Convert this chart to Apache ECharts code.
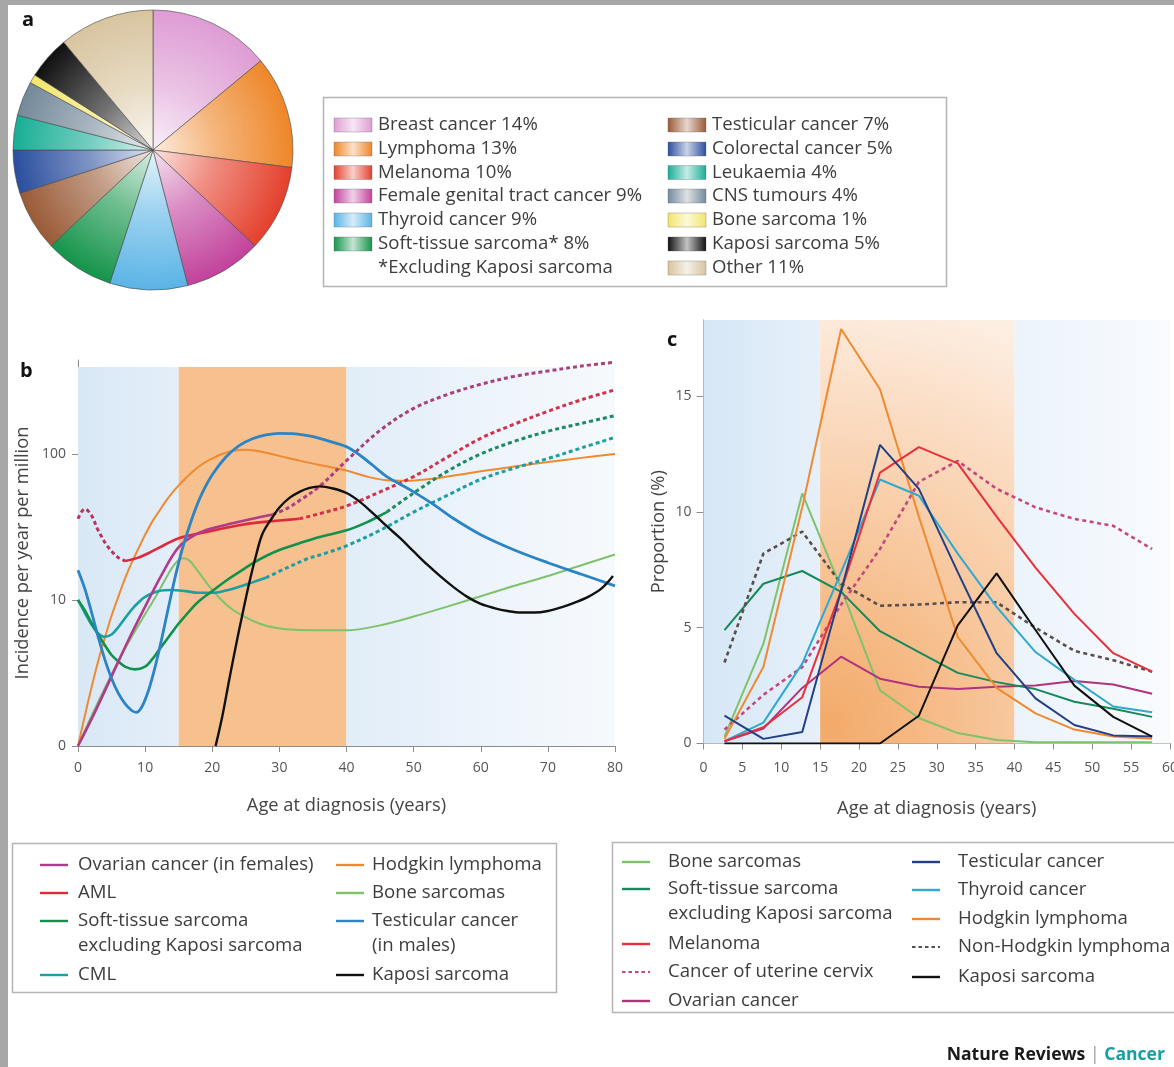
<!DOCTYPE html>
<html><head><meta charset="utf-8">
<script src="https://cdn.jsdelivr.net/npm/echarts@6/dist/echarts.min.js"></script>
<style>html,body{margin:0;padding:0;background:#fff}#chart{width:1174px;height:1067px}</style>
</head><body><div id="chart"></div>
<script>
// ---------- DATA ----------
// Panel a: pie
const pieNames = ['Breast cancer','Lymphoma','Melanoma','Female genital tract cancer','Thyroid cancer','Soft-tissue sarcoma*','Testicular cancer','Colorectal cancer','Leukaemia','CNS tumours','Bone sarcoma','Kaposi sarcoma','Other'];
const pieValues = [14,13,10,9,9,8,7,5,4,4,1,5,11];
const pieFootnote = '*Excluding Kaposi sarcoma';

// Panel b: incidence per year per million, [age, value]
const bOvarian = [[0,1],[2.5,1.7],[5,3],[7.5,5.3],[10,9],[12.5,15],[15,23],[17.5,28],[20,31],[23,33.5],[26,36],[29,38.5]];
const bOvarianLate = [[29,38.5],[31,42],[33,48],[36,60],[40,90],[45,145],[50,205],[55,255],[60,300],[65,340],[70,370],[75,400],[80,425]];
const bAMLEarly = [[0,36],[1,42],[2,38],[3,30],[4.5,23],[6,19.5],[7,18.5]];
const bAML = [[7,18.5],[9,19.5],[11,21.5],[13,24],[15,26.5],[18,28.5],[21,30.5],[24,32.5],[27,34],[30,35],[33,36]];
const bAMLLate = [[33,36],[36,39],[40,44],[45,55],[50,70],[55,95],[60,128],[65,160],[70,196],[75,235],[80,275]];
const bSoftTissue = [[0,10],[1,8.5],[2,7],[3,5.8],[4,4.9],[5,4.2],[6,3.8],[7,3.5],[8.5,3.35],[10,3.5],[11,3.9],[12,4.5],[13,5.2],[14,6],[15,6.9],[16,7.8],[17,8.8],[18,9.8],[20,11.5],[22,13.5],[24,15.5],[26,17.8],[28,20],[30,22],[33,24.5],[36,27],[40,30],[43,34],[46,40]];
const bSoftTissueLate = [[46,40],[50,54],[55,76],[60,100],[65,122],[70,143],[75,162],[80,183]];
const bCML = [[0,10],[1,8.2],[2,6.8],[3,5.9],[4,5.6],[5,5.8],[6,6.5],[7,7.5],[8,8.6],[9,9.6],[10,10.5],[12,11.5],[14,11.7],[16,11.5],[18,11.2],[20,11.2],[22,11.6],[24,12.3],[26,13.2],[28,14.2]];
const bCMLLate = [[28,14.2],[31,16.5],[34,19],[37,21],[40,23.5],[45,30],[50,40],[55,52],[60,67],[65,80],[70,93],[75,110],[80,130]];
const bHodgkin = [[0,1],[1,1.6],[2,2.5],[3,3.8],[4,5.5],[5,7.8],[6,10.5],[7,14],[8,18],[9,22.5],[10,28],[11,34],[12,40],[13,47],[14,54],[15,61],[16,68],[17,75],[18,82],[19,88],[20,93],[21,98],[22,102],[23,105],[24,106.5],[25,107],[26,106],[28,102],[30,97],[33,90],[36,84],[40,77],[43,70],[46,66],[49,65.5],[52,67],[55,70],[60,76],[65,82],[70,88],[75,94],[80,100]];
const bBone = [[0,1],[2,1.6],[4,2.5],[6,3.8],[8,5.6],[10,8],[11.5,10.4],[13,13.8],[14,16.6],[15,18.8],[15.8,19.3],[16.6,18.6],[17.5,16.6],[18.5,14.4],[19.5,12.5],[21,10.4],[23,8.6],[25,7.6],[27,6.9],[29,6.5],[31,6.3],[35,6.2],[40,6.2],[45,6.7],[50,7.7],[55,9],[60,10.6],[65,12.5],[70,14.6],[75,17.3],[80,20.5]];
const bTesticular = [[0,16],[1,12],[2,8.3],[3,5.6],[4,3.9],[5,2.9],[6,2.3],[7,1.95],[8,1.75],[8.7,1.7],[9.5,1.85],[10.5,2.4],[11.5,3.5],[12.5,5.5],[13.5,9],[14.5,14.5],[15.5,22],[16.5,31],[17.5,42],[18.5,54],[20,72],[22,95],[24,114],[26,127],[28,135],[30,138.5],[32,138],[34,134],[36,128],[38,120],[40,112],[42,98],[44,83],[46,70],[48,62],[50,55],[53,45],[56,36],[60,28],[65,22],[70,18],[75,15],[80,12.5]];
const bKaposi = [[20.5,1],[21.5,1.6],[22.5,2.8],[23.5,4.8],[24.5,8],[25.5,13],[26.5,20],[27.5,28.5],[29,37],[30,43],[31.5,50],[33,55],[34.5,58.5],[36,60],[38,58],[40,54],[42,47],[44,39],[46,32],[48,26.5],[50,21.5],[52,17.5],[54,14.5],[56,12.2],[58,10.5],[60,9.4],[62,8.8],[64,8.4],[66,8.2],[68,8.2],[70,8.4],[72,8.9],[74,9.6],[76,10.5],[78,12],[79.7,14.6]];
const bYTicks = [1,10,100];

// Panel c: proportion (%) by 5-year age group
const cAges = [2.7,7.7,12.7,17.7,22.7,27.7,32.7,37.7,42.7,47.7,52.7,57.7];
const cBone = [0.3,4.3,10.8,6.7,2.3,1.1,0.45,0.15,0.05,0.05,0.05,0.05];
const cSoftTissue = [4.9,6.9,7.45,6.55,4.85,3.95,3.05,2.65,2.35,1.8,1.5,1.15];
const cMelanoma = [0.1,0.7,2.0,6.6,11.7,12.8,12.1,9.8,7.6,5.6,3.9,3.1];
const cCervix = [0.6,2.1,3.3,6.0,8.4,11.3,12.2,11.0,10.2,9.7,9.4,8.4];
const cOvarian = [0.1,0.65,2.4,3.75,2.8,2.45,2.35,2.45,2.5,2.7,2.55,2.15];
const cTesticular = [1.2,0.2,0.5,6.6,12.9,11.0,7.4,3.9,1.95,0.8,0.35,0.3];
const cThyroid = [0.1,0.9,3.45,7.4,11.4,10.7,8.2,5.9,3.95,2.75,1.6,1.35];
const cHodgkin = [0.2,3.3,10.2,17.9,15.3,9.8,4.6,2.4,1.3,0.6,0.3,0.2];
const cNHL = [3.5,8.2,9.15,6.9,5.95,6.0,6.1,6.1,5.0,4.0,3.6,3.1];
const cKaposi = [0,0,0,0,0,1.2,5.1,7.35,4.9,2.5,1.15,0.3];
const cYTicks = [0,5,10,15];

// Legend texts
const bLegendLeft = ['Ovarian cancer (in females)','AML','Soft-tissue sarcoma\nexcluding Kaposi sarcoma','CML'];
const bLegendRight = ['Hodgkin lymphoma','Bone sarcomas','Testicular cancer\n(in males)','Kaposi sarcoma'];
const cLegendLeft = ['Bone sarcomas','Soft-tissue sarcoma\nexcluding Kaposi sarcoma','Melanoma','Cancer of uterine cervix','Ovarian cancer'];
const cLegendRight = ['Testicular cancer','Thyroid cancer','Hodgkin lymphoma','Non-Hodgkin lymphoma','Kaposi sarcoma'];

// ---------- STYLE ----------
const FONT = "'Open Sans', 'Noto Sans', sans-serif";
const TXT = '#3d3d3d';
const pieColors = ['#de9cd4','#ee8628','#e4402c','#c2429c','#5ab4e6','#14944a','#9a5a36','#2a4e9e','#18ae96','#74899a','#f2e66a','#101010','#d8c49f'];
const C = {
  ovarian:'#b23a8c', aml:'#e0283c', soft:'#11924c', cml:'#1b9fa3', hodgkin:'#f08a30',
  bone:'#7fc26c', testicB:'#2a84c6', kaposi:'#111111',
  testicC:'#233f86', thyroid:'#2ea9d1', melanoma:'#e8303c', cervix:'#c2497f', nhl:'#5a4d4d', ovarianC:'#b0337e', softC:'#17895a'
};
function mix(hex, t){
  const n = parseInt(hex.slice(1),16);
  const r=(n>>16)&255, g=(n>>8)&255, b=n&255;
  const f = v => Math.round(v + (255-v)*t);
  return 'rgb('+f(r)+','+f(g)+','+f(b)+')';
}

const chart = echarts.init(document.getElementById('chart'), null, {renderer:'canvas', width:1174, height:1067});

// ---------- axes ----------
function axisBase(){
  return {
    axisLine:{show:true, onZero:false, lineStyle:{color:'#8c8c8c', width:1}},
    axisTick:{show:true, inside:false, length:6, lineStyle:{color:'#8c8c8c', width:1}},
    axisLabel:{color:'#555', fontSize:14, fontFamily:FONT},
    splitLine:{show:false},
    nameTextStyle:{color:'#444', fontSize:18.3, fontFamily:FONT},
    nameLocation:'middle'
  };
}
const xB = Object.assign(axisBase(), {type:'value', gridIndex:0, min:0, max:80, interval:10, name:'Age at diagnosis (years)', nameGap:51});
xB.axisLabel.margin = 15;
const yB = Object.assign(axisBase(), {type:'log', logBase:10, gridIndex:0, min:1, max:440, name:'Incidence per year per million', nameGap:46, nameRotate:90});
yB.axisLabel = Object.assign(yB.axisLabel, {margin:12, customValues:bYTicks, formatter: v => bYTicks.indexOf(v) < 0 ? '' : (v === 1 ? '0' : String(v))});
yB.axisTick = Object.assign(yB.axisTick, {customValues:bYTicks});
const xC = Object.assign(axisBase(), {type:'value', gridIndex:1, min:0, max:60, interval:5, name:'Age at diagnosis (years)', nameGap:56});
xC.axisLabel.margin = 18;
const yC = Object.assign(axisBase(), {type:'value', gridIndex:1, min:0, max:18.29, interval:5, name:'Proportion (%)', nameGap:36, nameRotate:90});
yC.axisLabel = Object.assign(yC.axisLabel, {margin:12, customValues:cYTicks, formatter: v => cYTicks.indexOf(v) < 0 ? '' : String(v)});
yC.axisTick = Object.assign(yC.axisTick, {customValues:cYTicks, length:7});

// ---------- series ----------
const series = [];
// pie
series.push({
  type:'pie', silent:true, center:[153,150], radius:[0,140], startAngle:90, clockwise:true,
  label:{show:false}, labelLine:{show:false}, avoidLabelOverlap:false, emphasis:{disabled:true},
  itemStyle:{borderColor:'rgba(70,70,70,0.75)', borderWidth:0.8},
  data: pieNames.map((n,i)=>({name:n, value:pieValues[i], itemStyle:{color:{type:'radial', x:153, y:150, r:140, global:true,
    colorStops:[{offset:0,color:mix(pieColors[i],0.85)},{offset:0.45,color:mix(pieColors[i],0.4)},{offset:1,color:pieColors[i]}]}}}))
});
// backgrounds
function lin(x,y,x2,y2,stops){ return {type:'linear', x:x, y:y, x2:x2, y2:y2, colorStops:stops.map((c,i)=>({offset:i/(stops.length-1), color:c}))}; }
series.push({
  type:'line', xAxisIndex:0, yAxisIndex:0, data:[[0,1]], showSymbol:false, silent:true, z:1, lineStyle:{opacity:0},
  markArea:{silent:true, label:{show:false}, data:[
    [{xAxis:0, yAxis:1, itemStyle:{color:lin(0,0,1,0,['#d9e8f6','#e4eef9'])}},{xAxis:15, yAxis:394}],
    [{xAxis:15, yAxis:1, itemStyle:{color:'#f7c08f'}},{xAxis:40, yAxis:394}],
    [{xAxis:40, yAxis:1, itemStyle:{color:lin(0,0,1,0,['#e1edf8','#f7fafd'])}},{xAxis:80, yAxis:394}]
  ]}
});
series.push({
  type:'line', xAxisIndex:1, yAxisIndex:1, data:[[0,0]], showSymbol:false, silent:true, z:1, lineStyle:{opacity:0},
  markArea:{silent:true, label:{show:false}, data:[
    [{xAxis:0, yAxis:0, itemStyle:{color:lin(0,0,1,0,['#d6e7f6','#e6f0fa'])}},{xAxis:15, yAxis:18.29}],
    [{xAxis:15, yAxis:0, itemStyle:{color:{type:'radial', x:0.05, y:0.95, r:2.2, colorStops:[{offset:0,color:'#f3aa6a'},{offset:0.45,color:'#f8c9a0'},{offset:1,color:'#fdeee2'}]}}},{xAxis:40, yAxis:18.29}],
    [{xAxis:40, yAxis:0, itemStyle:{color:lin(0,0,1,0,['#ebf3fb','#f9fbfe'])}},{xAxis:60, yAxis:18.29}]
  ]}
});
function bLine(name, data, color, dashed, width){
  series.push({type:'line', name:name, xAxisIndex:0, yAxisIndex:0, data:data, smooth:0.35, showSymbol:false, silent:true, z:3,
    lineStyle:{color:color, width:width||2.6, type: dashed ? [4,3] : 'solid', cap:'butt'}});
}
bLine('Bone sarcomas', bBone, C.bone, false, 2);
bLine('Hodgkin lymphoma', bHodgkin, C.hodgkin, false, 2);
bLine('CML', bCML, C.cml, false);
bLine('CML', bCMLLate, C.cml, true, 3);
bLine('Soft-tissue sarcoma', bSoftTissue, C.soft, false);
bLine('Soft-tissue sarcoma', bSoftTissueLate, '#1d8a62', true, 3);
bLine('AML', bAMLEarly, '#b8345c', true, 3);
bLine('AML', bAML, C.aml, false);
bLine('AML', bAMLLate, '#d3304a', true, 3);
bLine('Ovarian cancer', bOvarian, C.ovarian, false);
bLine('Ovarian cancer', bOvarianLate, '#a9407f', true, 3);
bLine('Testicular cancer', bTesticular, C.testicB, false, 2.8);
bLine('Kaposi sarcoma', bKaposi, C.kaposi, false, 2.4);

function cLine(name, vals, color, dashed){
  series.push({type:'line', name:name, xAxisIndex:1, yAxisIndex:1, data:cAges.map((a,i)=>[a, vals[i]]), showSymbol:false, silent:true, z:3,
    lineStyle:{color:color, width: dashed ? 2.6 : 2, type: dashed ? [4,3.5] : 'solid', cap:'butt'}});
}
cLine('Bone sarcomas', cBone, C.bone);
cLine('Ovarian cancer', cOvarian, C.ovarianC);
cLine('Soft-tissue sarcoma', cSoftTissue, C.softC);
cLine('Non-Hodgkin lymphoma', cNHL, C.nhl, true);
cLine('Cancer of uterine cervix', cCervix, C.cervix, true);
cLine('Hodgkin lymphoma', cHodgkin, C.hodgkin);
cLine('Thyroid cancer', cThyroid, C.thyroid);
cLine('Melanoma', cMelanoma, C.melanoma);
cLine('Testicular cancer', cTesticular, C.testicC);
cLine('Kaposi sarcoma', cKaposi, C.kaposi);

// ---------- graphics: frame, labels, legends ----------
const g = [];
const LFS = 18.6;
function text(x, y, s, opt){
  opt = opt || {};
  g.push({type:'text', silent:true, z:50, style:Object.assign({x:x, y:y, text:s, fill:TXT, fontSize:LFS, fontFamily:FONT,
    align:'left', verticalAlign:'middle', textAlign:'left', textVerticalAlign:'middle'}, opt)});
}
g.push({type:'rect', silent:true, z:60, shape:{x:0,y:0,width:8,height:1067}, style:{fill:'#a7a7a7'}});
g.push({type:'rect', silent:true, z:60, shape:{x:0,y:0,width:1174,height:5}, style:{fill:'#a7a7a7'}});
text(22, 20, 'a', {fontWeight:'bold', fontSize:20, fill:'#111'});
text(20, 371, 'b', {fontWeight:'bold', fontSize:20, fill:'#111'});
text(667, 340, 'c', {fontWeight:'bold', fontSize:20, fill:'#111'});

// legend a
g.push({type:'rect', silent:true, z:40, shape:{x:323.5,y:97.5,width:623,height:189}, style:{fill:'#fff', stroke:'#b5b5b5', lineWidth:1.5}});
const aRows = [125,149,172.5,196,220,244,268];
pieNames.forEach((n,i)=>{
  const col = i < 6 ? 0 : 1;
  const row = col === 0 ? i : i - 6;
  const sx = col === 0 ? 334 : 668;
  const y = aRows[row];
  g.push({type:'rect', silent:true, z:45, shape:{x:sx, y:y-7, width:38, height:14},
    style:{fill:lin(0,0,1,0,[pieColors[i], mix(pieColors[i],0.75), pieColors[i]]), stroke:'rgba(90,90,90,0.5)', lineWidth:0.6}});
  text(sx+44, y, n + ' ' + pieValues[i] + '%');
});
text(378, aRows[6], pieFootnote);

// legend b
g.push({type:'rect', silent:true, z:40, shape:{x:12.5,y:843.5,width:544,height:149}, style:{fill:'#fff', stroke:'#b5b5b5', lineWidth:1.5}});
const bColorsL = [C.ovarian, C.aml, C.soft, C.cml];
const bColorsR = [C.hodgkin, C.bone, C.testicB, C.kaposi];
const bRows = [865, 893, 921, 975];
function legendCol(items, colors, rows, sx, tx, dashedIdx){
  items.forEach((s,i)=>{
    const y = rows[i];
    g.push({type:'line', silent:true, z:45, shape:{x1:sx, y1:y, x2:sx+28, y2:y},
      style:{stroke:colors[i], lineWidth: dashedIdx.indexOf(i)>=0 ? 2.2 : 2.4, lineDash: dashedIdx.indexOf(i)>=0 ? [3.5,3] : null}});
    s.split('\n').forEach((line,k)=> text(tx, y + k*25, line));
  });
}
legendCol(bLegendLeft, bColorsL, bRows, 40, 78, []);
legendCol(bLegendRight, bColorsR, bRows, 336, 372, []);

// legend c
g.push({type:'rect', silent:true, z:40, shape:{x:612.5,y:842.5,width:600,height:170}, style:{fill:'#fff', stroke:'#b5b5b5', lineWidth:1.5}});
legendCol(cLegendLeft, [C.bone, C.softC, C.melanoma, C.cervix, C.ovarianC], [862, 889, 944, 972, 1001], 622, 668, [3]);
legendCol(cLegendRight, [C.testicC, C.thyroid, C.hodgkin, C.nhl, C.kaposi], [862, 890, 919, 947, 977], 912, 958, [3]);

// footer
g.push({type:'text', silent:true, z:50, style:{x:1165, y:1055, align:'right', verticalAlign:'middle', textAlign:'right', textVerticalAlign:'middle',
  text:'{a|Nature Reviews} {b||} {c|Cancer}', fontFamily:FONT, fontSize:17.6,
  rich:{a:{fontWeight:'bold', fill:'#1a1a1a', color:'#1a1a1a', fontSize:17.6, fontFamily:FONT},
        b:{fill:'#9a9a9a', color:'#9a9a9a', fontSize:17.6, fontFamily:FONT},
        c:{fontWeight:'bold', fill:'#1a9da3', color:'#1a9da3', fontSize:17.6, fontFamily:FONT}}}});

chart.setOption({
  animation:false,
  backgroundColor:'#ffffff',
  textStyle:{fontFamily:FONT},
  grid:[
    {left:78, top:360, width:537, height:386, containLabel:false, outerBoundsMode:'none'},
    {left:703.5, top:320, width:466.5, height:423.5, containLabel:false, outerBoundsMode:'none'}
  ],
  xAxis:[xB, xC],
  yAxis:[yB, yC],
  series:series,
  graphic:{elements:g}
});
</script></body></html>
